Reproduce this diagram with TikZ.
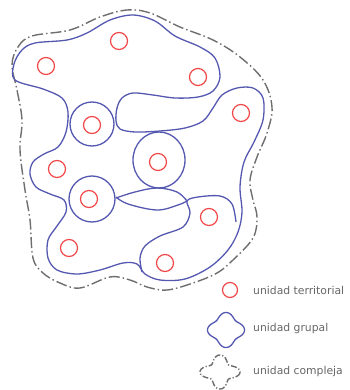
\documentclass[tikz,border=0pt]{standalone}
\usepackage{fontspec}
\setmainfont{DejaVu Sans}
\definecolor{bluec}{HTML}{5558B0}
\definecolor{redc}{HTML}{F04848}
\definecolor{grayc}{HTML}{6E6E6E}
\definecolor{txtc}{HTML}{666666}
\begin{document}
\begin{tikzpicture}[x=1pt,y=-1pt,
  grupo/.style={draw=bluec, line width=1.3pt},
  terr/.style={draw=redc, line width=1.2pt, circle, minimum size=17pt, inner sep=0pt},
  compl/.style={draw=grayc, line width=1.4pt, dash pattern=on 11pt off 3pt on 1.5pt off 3pt},
  leyenda/.style={text=txtc, font=\fontsize{10.8}{12}\selectfont, anchor=west, inner sep=0pt}]
\useasboundingbox (0,0) rectangle (349,390);

% unidad compleja (outer boundary)
\draw[compl] plot[smooth cycle, tension=0.6] coordinates {
 (12,65) (18,47) (32,36) (70,30) (100,17) (127,10) (150,13) (180,27) (213,40)
 (240,57) (263,80) (272,107) (267,133) (257,157) (250,180) (253,200) (257,217)
 (253,238) (233,260) (217,273) (193,283) (167,290) (147,287) (130,280) (110,277)
 (80,288) (60,283) (43,273) (33,258) (30,220) (25,190) (20,150) (22,120) (17,90)};

% unidades grupales
\draw[grupo] plot[smooth cycle, tension=0.55] coordinates {
 (15,80) (14,64) (22,50) (35,43) (67,40) (87,33) (110,20) (133,15) (155,21)
 (175,36) (200,47) (215,58) (220,77) (213,91) (198,97) (175,98) (153,95)
 (133,93) (122,98) (117,108) (116,121) (120,129) (135,132) (160,131) (185,128)
 (203,121) (213,108) (222,95) (237,88) (253,88) (263,98) (263,120) (254,142)
 (244,162) (240,187) (242,212) (238,232) (228,250) (210,267) (185,279) (160,280)
 (145,274) (137,264) (123,263) (100,270) (77,274) (57,270) (48,258) (48,240)
 (57,226) (66,212) (64,200) (50,194) (36,187) (30,174) (33,162) (44,154)
 (58,147) (66,132) (68,112) (62,98) (43,89)};
\draw[grupo] plot[smooth, tension=0.55] coordinates {
 (236,222) (232,204) (220,196) (198,197) (187,201) (190,213) (183,227)
 (160,236) (145,246) (140,258) (142,272)};
\draw[grupo] plot[smooth, tension=0.6] coordinates {
 (116,198) (135,192) (157,188) (177,192) (187,201)};
\draw[grupo] plot[smooth, tension=0.6] coordinates {
 (116,197) (128,204) (157,210) (178,205) (187,201)};
\draw[grupo] (92,124) circle[radius=22];
\draw[grupo] (92,199) circle[radius=23];
\draw[grupo] (159,160) ellipse[x radius=26, y radius=28];

% unidades territoriales
\node[terr] (t1) at (119,41) {};
\node[terr] (t2) at (46,66) {};
\node[terr] (t3) at (198,77) {};
\node[terr] (t4) at (241,113) {};
\node[terr] (t5) at (92,125) {};
\node[terr] (t6) at (57,169) {};
\node[terr] (t7) at (158,162) {};
\node[terr] (t8) at (89,199) {};
\node[terr] (t9) at (209,217) {};
\node[terr] (t10) at (69,248) {};
\node[terr] (t11) at (165,263) {};

% leyenda
\node[terr, minimum size=15pt] (lt) at (230,290) {};
\node[leyenda] (ltt) at (253,290) {unidad territorial};
\draw[grupo] plot[domain=0:360, samples=120, smooth cycle]
 ({226+18.5*(0.87+0.13*cos(4*\x))*cos(\x)}, {330+17.5*(0.87+0.13*cos(4*\x))*sin(\x)});
\node[leyenda] (lgt) at (253,329) {unidad grupal};
\draw[compl, dash pattern=on 6pt off 2pt on 1.2pt off 2pt] plot[domain=0:360, samples=120, smooth cycle]
 ({220+20*(0.8+0.2*cos(4*\x))*cos(\x)}, {372+17*(0.8+0.2*cos(4*\x))*sin(\x)});
\node[leyenda] (lct) at (253,372) {unidad compleja};
\end{tikzpicture}
\end{document}
